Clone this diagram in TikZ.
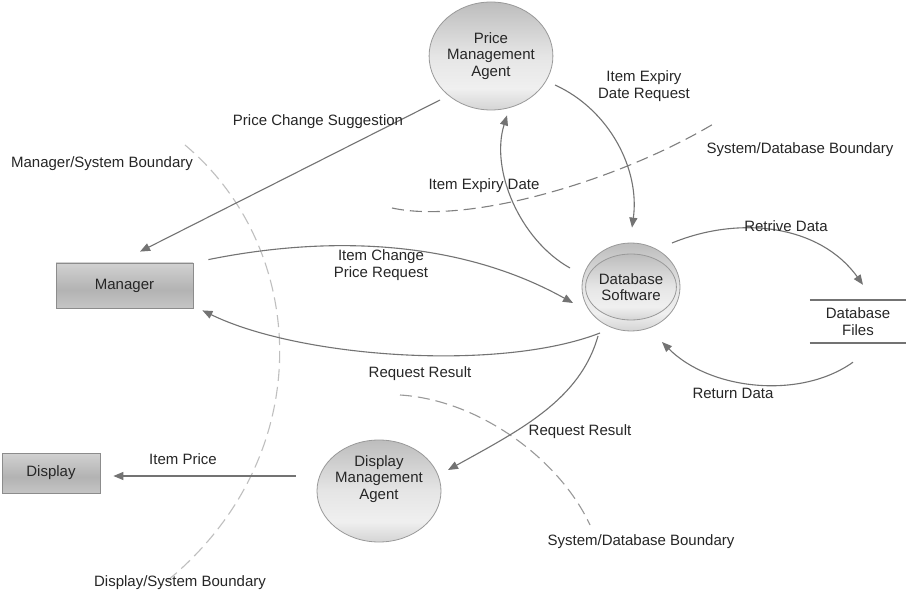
\documentclass[tikz,border=0pt]{standalone}
\usepackage{fontspec}
\setmainfont{Liberation Sans}
\usetikzlibrary{shapes.geometric,arrows.meta}
\pgfdeclareverticalshading{orb}{100bp}{color(0bp)=(black!45); color(22bp)=(black!20); color(35bp)=(black!6); color(50bp)=(black!10); color(100bp)=(black!42)}
\pgfdeclareverticalshading{bar}{100bp}{color(0bp)=(black!14); color(45bp)=(black!30); color(100bp)=(black!8)}
\begin{document}
\begin{tikzpicture}[x=1pt,y=-1pt,
  every node/.style={font=\fontsize{15}{16.5}\selectfont, text=black!85, align=center, inner sep=0pt},
  proc/.style={ellipse, draw=black!40, line width=0.8pt, shading=orb},
  ent/.style={rectangle, draw=black!45, line width=0.8pt, shading=bar},
  flow/.style={draw=black!55, line width=1.1pt, -{Triangle[length=10pt,width=8pt]}},
  bnd/.style={line width=1.1pt, dash pattern=on 12pt off 6pt},
]
\useasboundingbox[fill=white] (0,0) rectangle (906,596);

% boundaries
\draw[bnd, black!25] (185,145) .. controls (310,250) and (320,460) .. (162,585);
\draw[bnd, black!50] (392,208) .. controls (470,225) and (620,180) .. (715,123);
\draw[bnd, black!40] (400,395) .. controls (480,400) and (560,460) .. (590,525);

% nodes
\node[proc, minimum width=122pt, minimum height=108pt] (pma) at (491,56) {Price\\Management\\Agent};
\node[proc, minimum width=98pt, minimum height=88pt] (db) at (631,287) {};
\node[proc, minimum width=78pt, minimum height=66pt] (dbin) at (631,287) {Database\\Software};
\node[proc, minimum width=124pt, minimum height=102pt] (dma) at (379,491) {};
\node (dmat) at (379,479) {Display\\Management\\Agent};
\node[ent, minimum width=137pt, minimum height=45pt] (mgr) at (124.5,285.5) {Manager};
\node[ent, minimum width=98pt, minimum height=40pt] (disp) at (51,473) {Display};
\node[minimum width=96pt, minimum height=43pt] (files) at (858,321.5) {Database\\Files};
\draw[line width=2pt, black!55] (files.north west) -- (files.north east) (files.south west) -- (files.south east);

% flows
\draw[flow] ([shift={(-51,44)}]pma.center) -- ([shift={(15.5,-11)}]mgr.north);
\draw[flow] ([shift={(64,29)}]pma.center) .. controls (610,110) and (640,170) .. ([shift={(1,-15)}]db.north);
\draw[flow] ([shift={(-61,-19)}]db.center) .. controls (520,240) and (490,170) .. ([shift={(16,5)}]pma.south);
\draw[flow] ([shift={(15,-3)}]mgr.north east) .. controls (330,235) and (460,240) .. ([shift={(-58,16)}]db.center);
\draw[flow] ([shift={(-31,46)}]db.center) .. controls (500,372) and (300,358) .. ([shift={(9,2)}]mgr.south east);
\draw[flow] ([shift={(-33,49)}]db.center) .. controls (580,400) and (520,430) .. ([shift={(69,-21)}]dma.center);
\draw[flow] ([shift={(-21,-15)}]dma.west) -- ([shift={(13,3)}]disp.east);
\draw[flow] ([shift={(41,-44)}]db.center) .. controls (740,215) and (820,225) .. ([shift={(5,-15)}]files.north);
\draw[flow] ([shift={(-5,19)}]files.south) .. controls (800,400) and (710,390) .. ([shift={(31,55)}]db.center);

% labels
\node (l1) at (318,122) {Price Change Suggestion};
\node (l2) at (102,164) {Manager/System Boundary};
\node (l3) at (644,86) {Item Expiry\\Date Request};
\node (l4) at (800,150) {System/Database Boundary};
\node (l5) at (484,186) {Item Expiry Date};
\node (l6) at (786,226) {Retrive Data};
\node (l7) at (381,265) {Item Change\\Price Request};
\node (l8) at (420,374) {Request Result};
\node (l9) at (733,393) {Return Data};
\node (l10) at (580,432) {Request Result};
\node (l11) at (183,459) {Item Price};
\node (l12) at (641,542) {System/Database Boundary};
\node (l13) at (180,583) {Display/System Boundary};
\end{tikzpicture}
\end{document}
